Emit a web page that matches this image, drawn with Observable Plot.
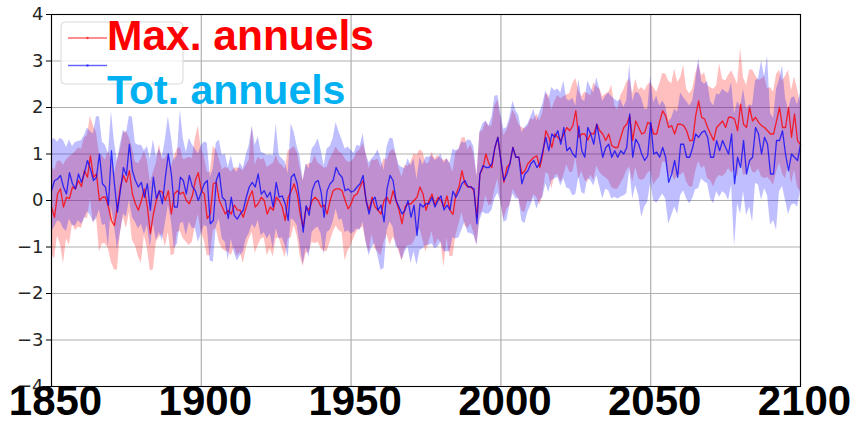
<!DOCTYPE html>
<html>
<head>
<meta charset="utf-8">
<script src="https://cdn.jsdelivr.net/npm/d3@7"></script>
<script src="https://cdn.jsdelivr.net/npm/@observablehq/plot@0.6"></script>
<style>
  html, body { margin: 0; padding: 0; background: #fff; }
  #chart { width: 858px; height: 426px; overflow: hidden; }
</style>
</head>
<body>
<div id="chart"></div>
<script>
// ---- data (annual values, 1850..2100) ----
const startYear = 1850;
const xTickLabels = [1850, 1900, 1950, 2000, 2050, 2100];
const yTickLabels = [-4, -3, -2, -1, 0, 1, 2, 3, 4];
const seriesNames = ["Max. annuels", "Tot. annuels"];

// red: annual maxima, ensemble mean
const maxMean = [
  -0.14,-0.36,0.14,0.25,-0.14,0.07,0.04,0.29,0.25,0.43,
  0.30,0.64,0.50,0.96,0.50,0.57,0.00,0.07,0.07,-0.14,
  -0.43,-0.54,-0.14,0.29,0.54,0.39,0.64,0.14,-0.07,-0.21,
  0.00,0.25,-0.14,-0.71,-0.29,0.00,0.21,0.18,0.00,0.21,
  -0.29,0.14,0.21,0.14,0.18,0.00,-0.07,0.10,0.43,0.60,
  0.21,0.14,-0.39,-0.29,0.36,0.39,0.00,-0.14,-0.29,-0.21,
  -0.29,-0.10,-0.20,-0.21,-0.36,-0.14,0.07,0.21,-0.14,-0.07,
  0.07,0.00,-0.29,-0.14,-0.21,0.07,0.00,-0.14,-0.43,0.07,
  0.20,0.36,0.14,-0.29,-0.57,-0.14,-0.21,0.00,0.07,0.00,
  -0.14,-0.10,-0.29,0.00,0.21,0.25,0.25,0.21,0.00,-0.18,
  -0.07,0.10,0.14,0.29,0.43,0.00,-0.21,0.07,-0.14,-0.21,
  -0.29,0.00,0.07,-0.07,0.21,0.00,-0.21,-0.50,-0.14,-0.07,
  -0.07,0.00,0.07,0.29,0.14,-0.21,0.00,0.14,-0.10,0.07,
  0.00,-0.14,0.10,-0.21,-0.30,0.14,0.29,0.64,0.36,0.29,
  0.30,0.20,-0.36,0.57,0.70,1.00,0.79,0.71,1.14,1.36,
  0.86,0.39,0.71,0.79,1.14,0.93,0.93,0.57,0.64,0.79,
  0.86,0.93,0.96,0.71,1.00,1.50,1.36,1.14,1.43,1.36,
  1.29,1.43,1.57,1.50,1.61,1.93,1.36,1.43,1.43,1.30,
  1.45,1.43,1.64,1.50,1.43,1.29,1.43,1.18,1.14,1.14,
  1.36,1.57,1.64,1.82,1.29,1.71,1.57,1.43,1.46,1.68,
  1.64,1.43,1.43,1.70,1.93,1.82,1.57,1.61,1.43,1.64,
  1.64,1.61,1.50,1.29,1.29,1.82,2.14,1.79,1.75,1.57,
  1.43,1.29,1.57,1.64,1.71,1.57,1.79,1.79,1.75,1.50,
  2.07,1.64,1.57,2.00,1.71,1.79,1.68,1.61,1.57,1.50,
  1.43,1.43,1.71,2.00,1.57,1.57,2.00,1.36,1.86,1.29,
  1.20
];
// red band: distance of upper / lower edge from the mean
const maxUp = [
  0.9,1.0,0.7,0.6,0.9,0.8,0.9,0.7,0.8,0.7,
  0.8,0.7,0.9,0.85,1.1,0.9,1.0,0.9,0.8,1.2,
  1.3,1.1,1.0,0.8,0.9,1.1,0.7,1.0,0.9,1.0,
  0.9,0.8,1.0,1.1,0.9,0.8,1.0,0.7,0.9,0.8,
  1.0,0.8,0.9,1.0,0.7,0.9,1.0,0.8,0.9,1.0,
  0.9,0.8,1.0,0.9,0.8,0.7,0.9,0.8,1.0,0.9,
  0.9,0.8,0.9,0.9,1.0,0.9,0.8,1.4,0.9,1.0,
  0.8,0.9,1.0,0.9,1.0,0.9,0.8,0.9,1.1,1.0,
  0.9,0.8,0.9,1.0,1.0,0.9,1.0,0.8,0.9,0.8,
  0.9,0.8,1.0,0.9,0.8,0.9,0.8,0.8,0.9,1.0,
  0.9,0.8,0.9,0.8,0.8,1.0,0.9,0.8,1.0,1.1,
  1.0,0.9,0.8,1.1,0.9,1.0,0.9,1.0,0.9,0.8,
  0.9,1.0,0.9,0.8,0.9,1.0,0.8,0.9,1.0,0.9,
  0.9,1.0,0.8,1.0,0.9,0.9,0.8,0.7,1.0,0.8,
  0.9,0.8,0.9,0.9,0.8,0.7,0.8,0.9,0.9,0.8,
  0.9,1.0,0.8,0.9,0.8,0.9,0.7,1.0,0.9,0.8,
  0.9,0.8,0.9,1.0,0.9,0.8,0.9,0.8,0.7,0.9,
  0.9,0.8,0.7,0.8,0.9,0.7,1.0,0.8,0.9,1.0,
  0.8,1.1,0.8,0.9,0.8,1.0,0.9,1.3,0.9,0.8,
  0.9,0.8,0.9,0.8,1.0,0.9,0.8,1.0,0.9,0.8,
  0.9,1.0,0.9,0.8,0.8,0.9,1.0,0.9,1.4,0.9,
  1.0,1.3,0.9,1.0,1.1,0.9,0.8,0.9,1.0,0.9,
  1.0,1.1,0.9,1.3,0.9,1.0,0.9,1.0,0.9,1.0,
  1.2,1.0,0.9,0.8,1.1,0.9,0.9,1.0,1.1,0.9,
  1.0,0.9,1.0,0.8,1.0,1.1,0.8,1.0,0.8,1.1,
  0.9
];
const maxDn = [
  1.0,0.9,0.9,1.2,1.22,0.9,1.0,0.8,0.9,1.0,
  0.9,1.0,0.9,0.9,1.0,0.9,1.1,1.0,1.0,0.9,
  0.9,0.95,1.36,1.0,0.9,1.0,0.9,1.0,0.9,1.0,
  1.35,1.0,0.9,0.8,1.2,0.9,1.0,0.9,1.0,0.9,
  0.9,1.3,0.9,0.8,1.0,0.9,0.9,1.0,1.0,0.9,
  0.9,1.0,0.8,0.9,1.0,1.0,0.9,0.9,0.8,0.9,
  0.9,0.9,1.0,0.9,1.0,0.9,0.9,0.9,1.0,0.9,
  0.9,0.8,0.9,0.9,1.0,0.9,0.8,0.9,0.8,0.9,
  1.0,0.9,0.9,0.9,0.85,1.0,0.9,0.9,1.0,0.9,
  0.9,1.0,0.8,0.9,0.9,0.8,0.9,0.9,1.3,0.9,
  0.9,0.9,0.8,0.9,1.0,0.9,0.9,0.8,0.9,0.9,
  0.9,0.9,0.8,0.9,1.0,0.9,0.9,0.8,0.9,0.9,
  0.9,0.9,0.8,0.9,1.0,0.9,0.9,0.8,0.9,0.9,
  0.9,1.3,0.9,1.0,0.9,0.9,0.8,0.9,0.9,0.9,
  0.8,0.9,0.6,0.9,0.9,0.9,0.9,0.8,0.9,0.9,
  0.9,0.8,0.9,0.9,0.9,0.8,0.9,0.8,0.9,0.8,
  0.9,0.8,0.9,0.8,0.9,0.9,0.8,0.9,0.9,0.8,
  0.9,0.9,0.8,0.9,1.0,1.0,0.9,0.8,1.0,0.9,
  0.9,1.0,0.9,0.9,0.9,0.8,1.0,0.9,0.9,0.9,
  1.0,1.1,1.0,1.1,0.9,1.0,1.1,1.0,1.0,1.1,
  1.0,1.1,1.0,1.2,1.1,1.0,1.1,1.0,1.0,1.1,
  1.1,1.0,1.1,1.0,1.0,1.2,1.3,1.1,1.0,1.1,
  1.0,1.0,1.1,1.1,1.2,1.0,1.1,1.2,1.1,1.0,
  1.2,1.1,1.0,1.2,1.1,1.2,1.0,1.1,1.1,1.0,
  1.0,1.1,1.1,1.2,1.0,1.1,1.2,1.0,1.2,1.0,
  1.0
];

// blue: annual totals, ensemble mean
const totMean = [
  0.21,0.43,0.46,0.54,0.29,0.14,0.60,0.36,0.25,0.57,
  0.39,0.60,0.86,0.68,0.43,0.50,1.00,0.36,0.29,-0.10,
  1.07,0.36,-0.25,0.21,0.71,0.54,1.21,0.64,0.43,0.29,
  0.39,0.07,0.36,-0.21,0.50,0.04,0.21,-0.07,0.50,1.00,
  0.57,-0.14,-0.14,0.50,0.43,0.14,0.54,0.30,0.21,0.00,
  0.18,0.36,0.43,-0.50,-0.43,0.43,0.60,0.07,0.00,-0.39,
  0.07,-0.32,-0.40,-0.29,-0.21,0.07,0.29,0.39,0.29,0.57,
  0.14,0.21,0.07,0.18,-0.14,0.39,0.07,0.10,-0.07,-0.43,
  0.50,0.57,0.36,-0.07,-0.68,-0.11,-0.32,0.21,0.39,0.43,
  0.18,-0.36,0.21,0.36,0.43,0.71,0.57,0.50,0.21,0.25,
  0.18,0.21,0.29,0.36,0.54,0.00,-0.29,0.00,0.07,-0.21,
  -0.10,-0.46,0.25,0.54,0.43,0.00,-0.14,-0.29,-0.21,0.00,
  -0.36,-0.10,-0.75,-0.07,-0.14,-0.07,-0.07,0.07,-0.14,0.00,
  0.10,-0.20,-0.10,-0.20,0.20,0.07,0.20,0.36,0.43,0.30,
  0.29,0.25,-0.50,0.57,0.75,0.71,0.71,0.79,1.14,1.36,
  0.86,0.43,0.57,0.79,1.14,0.93,0.93,0.36,0.57,0.64,
  0.79,0.86,0.71,0.79,1.07,1.36,1.07,1.43,1.36,1.50,
  1.21,1.57,1.07,1.14,1.00,0.93,1.60,1.07,0.93,1.57,
  1.43,1.21,1.64,1.29,0.93,1.14,1.21,0.93,1.07,0.93,
  1.07,1.00,1.14,1.86,0.93,1.32,1.21,1.00,0.86,0.96,
  1.68,1.00,1.04,0.93,1.14,0.93,0.39,0.57,0.86,0.50,
  1.21,1.21,0.93,0.93,1.14,1.43,1.36,1.46,1.50,1.36,
  0.93,0.93,1.29,1.07,1.29,1.14,1.00,1.43,0.36,0.93,
  0.71,1.29,0.57,0.86,0.93,1.57,1.43,1.00,1.36,1.21,
  0.57,0.57,1.29,1.29,1.50,1.00,0.64,1.00,0.93,0.86,
  1.20
];
const totUp = [
  1.1,0.9,0.8,0.8,1.0,1.0,0.7,0.8,1.0,0.7,
  0.9,0.8,0.7,0.8,1.0,1.3,0.8,0.9,0.9,1.1,
  0.85,0.9,1.1,1.0,0.8,0.9,0.6,1.15,0.8,0.9,
  0.8,1.0,0.8,1.1,0.8,0.9,0.9,1.0,0.8,0.8,
  0.8,1.0,1.1,1.45,0.9,0.9,0.8,0.9,0.9,1.0,
  1.0,0.9,0.8,1.0,1.1,0.8,0.7,0.9,1.0,1.1,
  0.9,1.0,1.0,1.1,0.9,0.9,0.9,1.2,0.9,0.8,
  0.9,0.8,0.9,0.8,1.1,1.25,0.9,0.8,0.9,1.0,
  1.15,0.9,0.8,1.0,1.1,0.9,1.0,0.9,0.8,0.9,
  0.9,1.1,0.9,0.8,0.9,0.97,0.9,0.8,0.9,0.9,
  0.9,0.8,0.9,0.8,0.9,1.0,1.1,0.9,0.9,1.3,
  1.0,1.1,0.9,0.8,0.9,1.0,0.9,1.0,0.9,0.9,
  1.1,1.0,1.2,1.0,0.9,1.0,1.0,0.9,1.0,0.9,
  0.9,1.0,1.0,1.0,0.9,1.0,0.9,0.9,0.8,1.0,
  1.0,0.9,1.0,0.9,0.9,1.0,0.9,1.0,1.1,0.9,
  1.0,1.1,1.0,1.0,1.0,1.0,0.9,1.1,1.0,1.0,
  1.0,1.1,1.0,1.1,1.0,1.0,1.1,1.0,1.0,0.9,
  1.1,1.0,1.1,1.0,1.2,1.1,1.0,1.1,1.2,1.0,
  1.0,1.1,1.0,1.1,1.2,1.1,1.1,1.3,1.1,1.2,
  1.1,1.0,1.0,1.07,1.2,1.0,1.1,1.2,1.1,1.0,
  1.0,1.1,1.2,1.1,1.0,1.1,1.3,1.2,1.1,1.4,
  1.1,1.0,1.2,1.1,1.0,1.1,1.7,1.1,1.0,1.2,
  1.2,1.1,1.0,1.2,1.1,1.2,1.3,1.1,1.5,1.2,
  1.3,1.1,1.4,1.2,1.1,1.0,1.2,2.0,1.3,1.9,
  1.3,1.2,1.1,1.3,1.4,1.2,1.3,1.2,1.3,1.2,
  1.1
];
const totDn = [
  0.9,1.0,0.9,1.0,0.9,0.8,1.0,0.9,0.8,1.0,
  0.9,1.0,1.1,1.0,0.9,0.9,1.2,0.9,0.8,0.9,
  1.2,0.9,0.8,0.9,1.0,0.9,1.2,1.0,0.9,0.9,
  0.9,0.8,0.9,0.8,1.0,0.9,0.9,0.8,1.0,1.1,
  1.0,0.9,0.8,1.0,0.9,0.9,1.0,0.9,0.8,0.9,
  0.9,0.9,1.0,0.8,0.9,1.0,1.0,0.9,0.9,0.9,
  0.9,0.8,0.9,0.9,0.9,0.9,1.0,0.9,0.9,1.0,
  0.9,0.9,0.9,0.9,0.9,1.0,0.9,0.9,0.9,0.8,
  0.9,1.0,0.9,0.9,0.7,0.9,0.9,0.9,1.0,1.0,
  0.9,0.8,0.9,1.0,0.9,0.9,1.0,0.9,0.9,0.9,
  0.9,0.9,0.9,1.0,1.0,0.9,0.9,1.0,1.0,1.0,
  1.4,1.0,0.9,1.0,1.0,1.0,0.9,1.0,0.9,1.0,
  1.0,1.0,0.65,1.0,0.9,0.9,0.9,1.0,0.9,1.0,
  1.0,0.9,1.0,0.9,1.0,0.9,1.0,1.0,0.9,1.0,
  1.0,1.0,0.46,1.0,1.0,1.0,1.0,1.0,1.1,1.2,
  0.9,0.9,1.0,0.9,1.0,0.9,0.9,0.8,1.07,0.9,
  0.9,0.8,0.9,0.8,1.0,1.0,0.9,1.0,0.9,1.0,
  0.9,1.1,0.8,0.9,0.9,0.8,1.1,0.9,0.8,1.1,
  1.0,0.9,1.1,1.0,0.9,0.9,1.0,0.9,1.0,0.9,
  1.0,0.9,1.0,1.2,0.9,1.0,1.1,1.36,1.0,1.0,
  1.3,1.0,1.1,0.9,1.0,0.9,0.9,0.9,1.0,0.8,
  1.1,1.0,0.9,1.0,1.1,1.2,1.1,1.0,1.1,1.0,
  0.9,1.0,1.1,1.0,1.1,1.0,1.0,1.1,1.36,1.0,
  1.0,1.1,0.9,1.0,1.4,1.2,1.1,1.0,1.1,1.1,
  1.1,1.0,1.93,1.1,1.2,1.0,0.94,1.1,1.0,1.0,
  1.0
];

// ---- build table ----
const rows = maxMean.map((v, i) => ({
  year: startYear + i,
  maxMean: v,
  maxLo: v - maxDn[i],
  maxHi: v + maxUp[i],
  totMean: totMean[i],
  totLo: totMean[i] - totDn[i],
  totHi: totMean[i] + totUp[i]
}));

const minus = d => (d < 0 ? "\u2212" + (-d) : String(d));

const chart = Plot.plot({
  width: 858,
  height: 426,
  marginLeft: 51,
  marginRight: 58,
  marginTop: 14,
  marginBottom: 40,
  x: {domain: [1850, 2100], label: null},
  y: {domain: [-4, 4], label: null},
  style: {background: "#fff", fontFamily: "DejaVu Sans, sans-serif", overflow: "visible"},
  marks: [
    Plot.gridX(xTickLabels, {stroke: "#b0b0b0", strokeOpacity: 1, strokeWidth: 1.2}),
    Plot.gridY(yTickLabels, {stroke: "#b0b0b0", strokeOpacity: 1, strokeWidth: 1.2}),
    Plot.areaY(rows, {x: "year", y1: "maxLo", y2: "maxHi", fill: "#ff0000", fillOpacity: 0.25}),
    Plot.areaY(rows, {x: "year", y1: "totLo", y2: "totHi", fill: "#0000ff", fillOpacity: 0.25}),
    Plot.lineY(rows, {x: "year", y: "maxMean", stroke: "#ff0000", strokeOpacity: 0.8, strokeWidth: 1.3}),
    Plot.lineY(rows, {x: "year", y: "totMean", stroke: "#0000ff", strokeOpacity: 0.75, strokeWidth: 1.3}),
    Plot.frame({stroke: "#000", strokeWidth: 1.1}),
    Plot.axisY(yTickLabels, {
      tickSize: 5, tickPadding: 3, fontSize: 18, fill: "#262626",
      stroke: "#000", tickFormat: minus, label: null
    }),
    Plot.axisX(xTickLabels, {
      tickSize: 0, tickPadding: 3, fontSize: 42, fontWeight: "bold",
      fontFamily: "Liberation Sans, Arial, sans-serif", fill: "#000",
      tickFormat: d => String(d), dy: -4, dx: 4, label: null
    })
  ]
});

document.getElementById("chart").appendChild(chart);

// ---- legend box and overlaid titles ----
const svg = d3.select(chart);
const leg = svg.append("g");
leg.append("rect").attr("x", 61).attr("y", 22).attr("width", 122).attr("height", 62)
  .attr("rx", 4).attr("fill", "#fff").attr("fill-opacity", 0.8)
  .attr("stroke", "#d8d8d8").attr("stroke-width", 1);
const sampleColors = ["#ff0000", "#0000ff"];
sampleColors.forEach((c, i) => {
  const yy = 38 + i * 27.5;
  leg.append("line").attr("x1", 68).attr("x2", 107).attr("y1", yy).attr("y2", yy)
    .attr("stroke", c).attr("stroke-opacity", 0.6).attr("stroke-width", 1.3);
  leg.append("circle").attr("cx", 87.5).attr("cy", yy).attr("r", 1.2)
    .attr("fill", c).attr("fill-opacity", 0.6);
});
const titleColors = ["#ff0000", "#00b0f0"];
const titleSizes = [42.5, 41];
seriesNames.forEach((name, i) => {
  svg.append("text").attr("x", 107).attr("y", 50 + i * 54)
    .attr("text-anchor", "start")
    .attr("font-family", "Liberation Sans, Arial, sans-serif")
    .attr("font-weight", "bold").attr("font-size", titleSizes[i])
    .attr("fill", titleColors[i]).text(name);
});

// sanity check on array lengths
const lens = [maxMean, maxUp, maxDn, totMean, totUp, totDn].map(a => a.length);
if (lens.some(l => l !== 251)) {
  svg.append("text").attr("x", 300).attr("y", 300).attr("fill", "red").text("len " + lens.join(","));
}
</script>
</body>
</html>
